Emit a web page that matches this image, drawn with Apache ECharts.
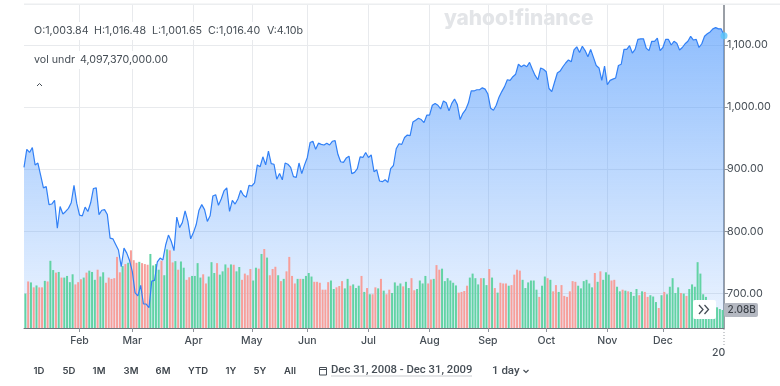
<!DOCTYPE html>
<html><head><meta charset="utf-8">
<style>html,body{margin:0;padding:0;background:#fff}#c{width:780px;height:386px}</style>
<script src="https://cdn.jsdelivr.net/npm/echarts@6/dist/echarts.min.js"></script>
</head><body><div id="c"></div>
<script>
const monthLabels = {20:'Feb',39:'Mar',61:'Apr',82:'May',102:'Jun',124:'Jul',146:'Aug',167:'Sep',188:'Oct',210:'Nov',230:'Dec'};
const closes = [903,932,927,935,907,910,890,870,872,843,844,850,805,840,828,832,837,846,874,845,826,
825,839,832,846,869,870,827,834,835,827,789,788,779,770,743,773,765,753,735,
701,696,713,683,683,677,720,721,751,757,754,778,794,784,769,823,806,814,833,816,788,798,
811,834,843,835,816,825,857,859,842,852,865,870,832,850,844,852,866,858,855,874,873,
878,907,904,920,907,929,909,908,884,893,883,910,908,903,888,887,910,893,907,919,
943,945,932,942,940,939,942,939,945,946,924,912,911,918,921,893,895,901,920,919,927,919,
923,896,899,881,880,883,879,901,906,933,941,940,951,955,954,976,979,982,980,975,987,987,
1003,1006,1003,997,1010,1007,994,1006,1013,1004,980,990,996,1007,1026,1026,1028,1028,1031,1029,1021,
998,995,1003,1016,1025,1033,1044,1043,1049,1053,1069,1065,1068,1065,1072,1061,1051,1044,1063,1061,1057,
1030,1025,1040,1055,1058,1065,1071,1076,1073,1092,1097,1088,1098,1091,1081,1093,1080,1067,1063,1043,1066,1036,
1043,1045,1047,1067,1069,1093,1093,1099,1087,1093,1109,1110,1110,1095,1091,1106,1106,1111,1091,1096,
1109,1109,1100,1106,1103,1092,1096,1102,1106,1114,1108,1109,1096,1102,1114,1118,1121,1126,1128,1126,1126,1115];
const volumes = [3.98,5.38,5.27,4.70,4.92,4.70,4.70,5.45,5.38,7.77,6.70,6.40,6.48,5.83,5.83,6.02,5.30,6.21,5.04,5.30,
5.64,5.83,6.40,6.63,6.48,5.57,6.74,5.95,6.44,5.23,5.83,5.68,5.76,8.22,6.44,7.16,7.39,7.54,8.98,7.84,
7.54,7.65,7.50,7.39,7.31,8.56,7.23,7.39,6.74,7.77,6.10,9.09,8.98,7.58,7.73,6.74,7.69,6.97,5.57,5.87,
6.02,6.02,7.50,5.83,6.21,5.15,5.95,7.61,6.36,7.50,6.17,6.55,7.35,6.97,7.35,7.31,6.55,7.05,5.57,6.29,
6.10,6.82,5.49,6.97,6.86,
8.56,9.13,8.14,6.10,6.82,7.08,6.10,5.42,5.68,6.55,8.22,6.02,5.15,5.68,5.68,5.68,6.02,6.36,5.95,5.34,
5.34,5.23,4.43,4.43,5.30,5.49,4.51,4.70,4.85,5.42,4.58,5.68,4.89,5.04,4.62,4.89,6.02,4.17,4.62,3.90,
3.90,4.70,4.58,5.68,4.32,3.90,4.43,4.05,5.27,4.89,5.15,4.81,5.34,4.62,5.76,4.36,4.51,5.49,5.15,6.02,
5.15,5.61,5.68,7.27,6.74,6.86,5.42,5.76,5.49,5.23,4.92,4.09,4.17,4.28,4.89,5.83,6.29,5.76,5.04,5.76,
5.76,4.96,6.82,5.83,4.62,4.09,5.23,5.15,5.15,4.89,4.96,6.17,6.74,6.63,
5.57,4.62,5.27,5.49,5.49,4.43,3.60,4.89,5.95,5.76,5.57,4.24,4.96,4.17,4.96,3.71,3.60,4.24,5.42,5.34,
4.89,4.58,5.42,5.57,5.15,4.70,6.36,5.34,6.55,5.57,6.44,6.17,5.49,5.57,4.77,4.24,4.43,4.32,4.24,4.17,
3.71,4.51,3.79,4.24,4.17,3.60,3.79,3.64,3.00,2.31,3.79,4.17,3.90,4.77,5.76,4.05,4.70,4.05,3.98,3.71,
4.51,5.04,4.77,7.61,6.29,3.90,3.60,3.22,3.03,3.03,2.39,2.20,2.08];
const sides = ('g r g r g r r g r g g r g r g g g g r r r g r g g g r g g r r r r r r g r g r r r g r r r g g g g r g g r r g r g g r r g g g g r r g g g r g g g r g r g g r r r r g g r ' +
'g r g r r r g r g r r r r g r g g g g r r r r r r g g r r r g g r g g g r g r g r r g r g r r g g g g r g g r r g g g g r r g r r g g g g g g r r r r g g g g r g g r ' +
'g r g r r r g r r r r g g g g g g r g g r g r r g r r r r r r g g g g g g r g r g g g r r g g r g r g g g r g r r g g g r g r g g g g g r g r').trim().split(/\s+/);
const tickLabels = ['700.00','800.00','900.00','1,000.00','1,100.00'];
const buttons = [['1D',39],['5D',69],['1M',99],['3M',131],['6M',163],['YTD',198],['1Y',231],['5Y',260],['All',290]];

const L=24,R=56,T=5,B=58;
const ink='#464e56', axisInk='#8e939b';
const green='#62d3a4', red='#f79f9a';
const days = closes.map((_,i)=>monthLabels[i]||('d'+i));
const isTick = i => monthLabels[i]!==undefined;
const txt=(x,y,text,o={})=>({type:'text',x,y,z:50,style:Object.assign({text,fill:ink,font:'11px Inter',textVerticalAlign:'middle'},o)});
const chart=echarts.init(document.getElementById('c'),null,{renderer:'canvas'});
const headers=[['O:1,003.84',34],['H:1,016.48',94],['L:1,001.65',152],['C:1,016.40',208],['V:4.10b',267]];
chart.setOption({
 animation:false,
 grid:[{left:L,right:R,top:T,bottom:B},{left:L,right:R,top:T,bottom:B}],
 xAxis:[
  {type:'category',gridIndex:0,data:days,boundaryGap:false,
   axisLine:{show:true,lineStyle:{color:'#70757c',width:1}},
   axisTick:{show:true,length:4,interval:isTick,lineStyle:{color:axisInk}},
   axisLabel:{show:true,interval:isTick,margin:7,color:ink,fontFamily:'Inter',fontSize:10.5,fontWeight:500},
   splitLine:{show:true,interval:isTick,lineStyle:{color:'#e8eaed',width:1}}},
  {type:'category',gridIndex:1,data:volumes.map((_,i)=>i),boundaryGap:true,show:false}
 ],
 yAxis:[
  {type:'value',gridIndex:0,position:'right',min:644.4,max:1164.4,interval:100,
   axisLine:{show:true,lineStyle:{color:'#9a9fa6',width:2}},
   axisTick:{show:true,length:4,customValues:[700,800,900,1000,1100],lineStyle:{color:axisInk}},
   axisLabel:{show:true,margin:3,color:ink,fontFamily:'Inter',fontSize:10.8,customValues:[700,800,900,1000,1100],
     formatter:v=>tickLabels[Math.round(v/100)-7]},
   splitLine:{show:true,lineStyle:{color:'#e8eaed',width:1}}},
  {type:'value',gridIndex:1,min:0,max:37.34,show:false,splitLine:{show:false}}
 ],
 series:[
  {type:'line',name:'area',xAxisIndex:0,yAxisIndex:0,data:closes,showSymbol:false,z:1,lineStyle:{width:0},silent:true,
   areaStyle:{origin:'start',opacity:1,color:{type:'linear',x:0,y:0,x2:0,y2:1,colorStops:[{offset:0,color:'rgba(75,150,252,0.62)'},{offset:0.45,color:'rgba(75,150,252,0.38)'},{offset:1,color:'rgba(75,150,252,0.1)'}]}}},
  {type:'bar',name:'volume',xAxisIndex:1,yAxisIndex:1,barWidth:2,z:2,
   data:volumes.map((v,i)=>({value:v,itemStyle:{color:sides[i]==='r'?red:green}}))},
  {type:'line',name:'close',xAxisIndex:0,yAxisIndex:0,data:closes,showSymbol:false,z:3,lineStyle:{color:'#3180f6',width:1.2}},
  {type:'scatter',xAxisIndex:0,yAxisIndex:0,z:4,clip:false,symbolSize:7,itemStyle:{color:'#5ac6fb'},data:[[closes.length-1,closes[closes.length-1]]]}
 ],
 graphic:[
  {type:'rect',z:40,shape:{x:24,y:3.5,width:756,height:1.5},style:{fill:'#eceef0'}},
  {type:'rect',z:45,shape:{x:32,y:22,width:272,height:18},style:{fill:'#fff'}},
  {type:'rect',z:45,shape:{x:32,y:51,width:138,height:18},style:{fill:'#fff'}},
  ...headers.map(h=>txt(h[1],31,h[0],{font:'10.7px Inter'})),
  txt(34,59.5,'vol undr',{font:'10.7px Inter'}),
  txt(80,59.5,'4,097,370,000.00',{font:'10.7px Inter'}),
  {type:'polyline',z:50,shape:{points:[[37,86],[39.5,83.5],[42,86]]},style:{stroke:ink,lineWidth:1,fill:null}},
  txt(444,19,'yahoo!finance',{font:'800 20.8px Inter',fill:'#e3e5e8'}),
  ...buttons.map(b=>txt(b[1],371,b[0],{font:'600 9.5px Inter',textAlign:'center',fill:'#3d444b'})),
  {type:'rect',z:50,shape:{x:319.5,y:367.5,width:7,height:7.5},style:{fill:null,stroke:ink,lineWidth:1}},
  {type:'line',z:50,shape:{x1:319,y1:369.5,x2:327,y2:369.5},style:{stroke:ink,lineWidth:1}},
  txt(331,370,'Dec 31, 2008 - Dec 31, 2009',{font:'500 11.3px Roboto'}),
  {type:'rect',z:50,shape:{x:331,y:375.5,width:141,height:1},style:{fill:'#c9ccd0'}},
  txt(492,371,'1 day',{font:'500 11.5px Roboto'}),
  {type:'polyline',z:50,shape:{points:[[523.5,370],[526,372.5],[528.5,370]]},style:{stroke:ink,lineWidth:1.2,fill:null}},
  {type:'rect',z:46,shape:{x:693,y:300,width:23,height:19,r:2},style:{fill:'#fff'}},
  {type:'polyline',z:50,shape:{points:[[699,305],[703,309.5],[699,314]]},style:{stroke:ink,lineWidth:1.3,fill:null}},
  {type:'polyline',z:50,shape:{points:[[704.5,305],[708.5,309.5],[704.5,314]]},style:{stroke:ink,lineWidth:1.3,fill:null}},
  {type:'rect',z:46,shape:{x:724,y:303,width:34,height:14,r:2},style:{fill:'#b4b8c1'}},
  txt(727.5,310,'2.08B',{font:'500 10px Inter',fill:'#3c4148'}),
  {type:'line',z:50,shape:{x1:724,y1:329,x2:724,y2:345},style:{stroke:'#9a9fa6',lineWidth:1,lineDash:[1,2]}},
  txt(712,353,'20',{font:'500 10.5px Inter'})
 ]
});
</script></body></html>
